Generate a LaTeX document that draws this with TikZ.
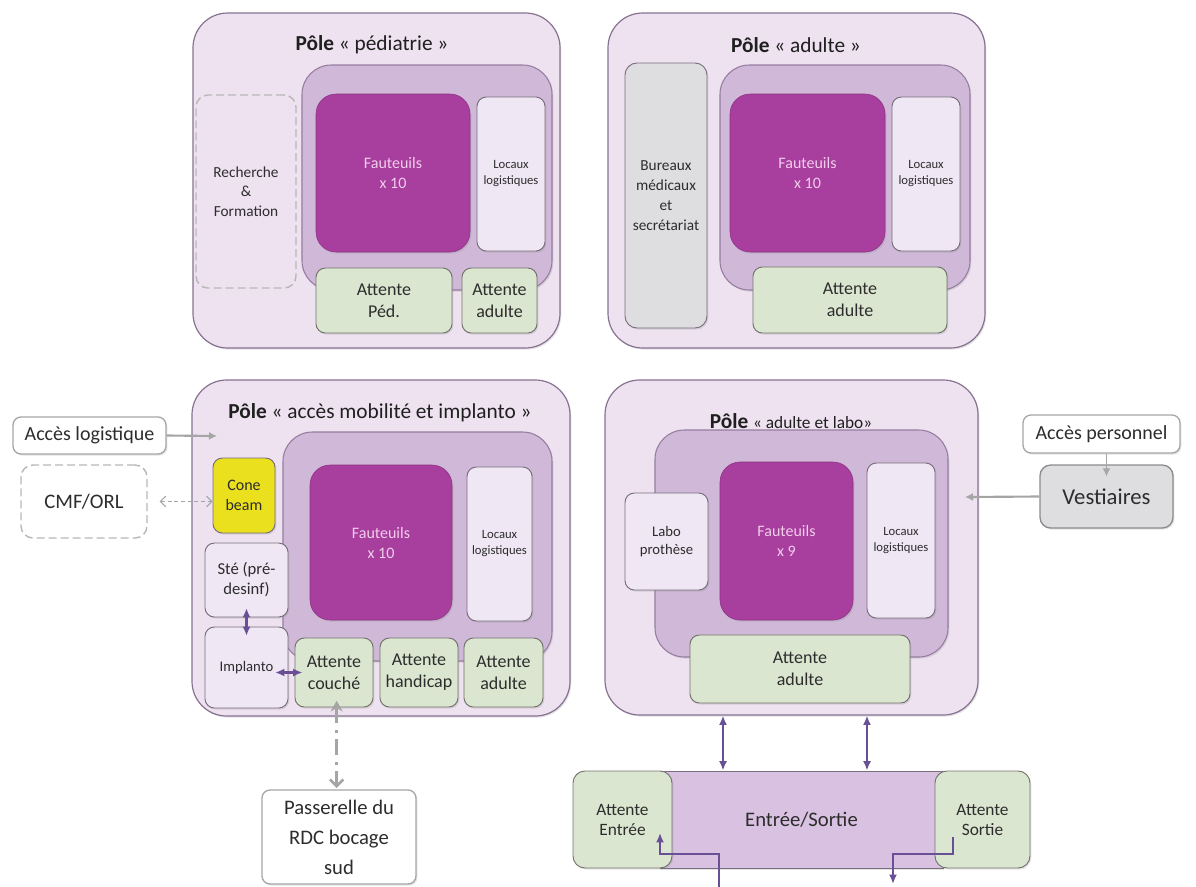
\documentclass[tikz,border=0pt]{standalone}
\usepackage{fontspec}
\setmainfont{Carlito}
\usepackage{tikz}
\usetikzlibrary{arrows.meta, positioning, calc, shadows}

\definecolor{poleFill}{RGB}{238,226,240}
\definecolor{poleLine}{RGB}{135,115,145}
\definecolor{innerFill}{RGB}{208,184,216}
\definecolor{innerLine}{RGB}{150,125,160}
\definecolor{fautFill}{RGB}{168,62,158}
\definecolor{fautLine}{RGB}{140,50,130}
\definecolor{fautText}{RGB}{242,205,236}
\definecolor{locFill}{RGB}{239,231,244}
\definecolor{locLine}{RGB}{120,110,125}
\definecolor{attFill}{RGB}{219,230,208}
\definecolor{attLine}{RGB}{115,115,110}
\definecolor{buFill}{RGB}{222,221,224}
\definecolor{coneFill}{RGB}{234,224,30}
\definecolor{esFill}{RGB}{217,193,225}
\definecolor{arrowPurple}{RGB}{105,80,150}
\definecolor{arrowGray}{RGB}{165,165,165}
\definecolor{textGray}{RGB}{45,45,45}

\tikzset{
  % zone={x1}{y1}{x2}{y2}: box between two corners, in pixels
  zone/.style n args={4}{at={($(#1,#2)!.5!(#3,#4)$)},
    minimum width={(#3-#1)*0.75pt}, minimum height={(#4-#2)*0.75pt}},
  box/.style={draw, inner sep=0pt, align=center, text=textGray,
    drop shadow={shadow xshift=1pt, shadow yshift=-1.2pt, opacity=0.22}},
  pole/.style={box, draw=poleLine, fill=poleFill, rounded corners=26pt, line width=0.9pt},
  inner/.style={box, draw=innerLine, fill=innerFill, rounded corners=22pt, line width=0.8pt},
  fauteuil/.style={box, draw=fautLine, fill=fautFill, rounded corners=15pt, text=fautText,
    font=\fontsize{12}{15}\selectfont},
  locaux/.style={box, draw=locLine, fill=locFill, rounded corners=7pt, line width=0.7pt,
    font=\fontsize{9.5}{12}\selectfont},
  salle/.style={locaux, font=\fontsize{12}{15}\selectfont},
  attente/.style={box, draw=attLine, fill=attFill, rounded corners=7pt, line width=0.7pt,
    font=\fontsize{13.5}{16.5}\selectfont},
  bureau/.style={box, draw=locLine, fill=buFill, rounded corners=9pt, line width=0.7pt,
    font=\fontsize{11.5}{15}\selectfont},
  tirets/.style={draw=black!28, dash pattern=on 6pt off 3pt, line width=1.1pt, inner sep=0pt,
    align=center, text=textGray, rounded corners=9pt},
  acces/.style={box, draw=black!35, fill=white, rounded corners=6pt, line width=1pt,
    font=\fontsize{15}{18}\selectfont},
  ptitle/.style={font=\fontsize{16}{19}\selectfont, text=black!88},
  duplex/.style={{Latex[length=7pt,width=6pt]}-{Latex[length=7pt,width=6pt]},
    draw=arrowPurple, line width=1.7pt},
  flux/.style={-{Latex[length=7pt,width=6pt]}, draw=arrowPurple, line width=1.7pt},
  gris/.style={-{Latex[length=6pt,width=6pt]}, draw=arrowGray, line width=1.6pt},
  lienpoint/.style={{Straight Barb[length=4pt,width=8pt]}-{Straight Barb[length=4pt,width=8pt]},
    draw=arrowGray, dash pattern=on 3pt off 2pt, line width=0.7pt},
  passage/.style={{Stealth[length=8pt,width=9pt]}-{Straight Barb[length=5pt,width=10pt]},
    draw=arrowGray, line width=2pt, dash pattern=on 12pt off 5pt on 2pt off 5pt}
}

\begin{document}
\begin{tikzpicture}[x=0.75pt, y=-0.75pt]
\useasboundingbox (0,0) rectangle (1196,886);

% Pole pediatrie
\node[pole, zone={193}{13}{560}{348}] (pl1) {};
\node[ptitle] (t1) at (372,45) {\textbf{Pôle} « pédiatrie »};
\node[inner, zone={302}{65}{552}{290}] (in1) {};
\node[tirets, zone={196}{95}{296}{288}, font=\fontsize{11.5}{14.5}\selectfont] (rf) {Recherche\\\&\\Formation};
\node[fauteuil, zone={316}{94}{470}{252}] (f1) {Fauteuils\\x 10};
\node[locaux, zone={477}{97}{545}{251}] (lo1) {Locaux\\logistiques};
\node[attente, zone={316}{268}{452}{333}] (ap1) {Attente\\Péd.};
\node[attente, zone={462}{268}{537}{333}] (aa1) {Attente\\adulte};

% Pole adulte
\node[pole, zone={608}{13}{985}{348}] (pl2) {};
\node[ptitle] (t2) at (796,45) {\textbf{Pôle} « adulte »};
\node[bureau, zone={625}{63}{707}{328}] (bu) {Bureaux\\médicaux\\et\\secrétariat};
\node[inner, zone={720}{65}{970}{290}] (in2) {};
\node[fauteuil, zone={730}{94}{885}{252}] (f2) {Fauteuils\\x 10};
\node[locaux, zone={892}{97}{960}{251}] (lo2) {Locaux\\logistiques};
\node[attente, zone={753}{267}{947}{333}] (aa2) {Attente\\adulte};

% Pole acces mobilite et implanto
\node[pole, zone={192}{380}{570}{716}] (pl3) {};
\node[ptitle] (t3) at (380,413) {\textbf{Pôle} « accès mobilité et implanto »};
\node[inner, zone={283}{432}{552}{661}] (in3) {};
\node[salle, fill=coneFill, zone={213}{458}{275}{533}] (cb) {Cone\\beam};
\node[salle, font=\fontsize{12.5}{15}\selectfont, zone={205}{543}{288}{617}] (ste) {Sté (pré-\\desinf)};
\node[salle, font=\fontsize{11}{14}\selectfont, zone={205}{627}{288}{708}] (imp) {Implanto};
\node[fauteuil, zone={310}{465}{452}{620}] (f3) {Fauteuils\\x 10};
\node[locaux, zone={467}{467}{532}{621}] (lo3) {Locaux\\logistiques};
\node[attente, zone={295}{638}{373}{707}] (ac) {Attente\\couché};
\node[attente, zone={380}{638}{458}{707}] (ah) {Attente\\handicap};
\node[attente, zone={464}{638}{543}{707}] (aa3) {Attente\\adulte};

% Pole adulte et labo
\node[pole, zone={605}{380}{978}{715}] (pl4) {};
\node[ptitle] (t4) at (791,421) {\textbf{Pôle} {\fontsize{13}{15}\selectfont « adulte et labo»}};
\node[inner, zone={655}{430}{948}{657}] (in4) {};
\node[salle, font=\fontsize{11}{13.5}\selectfont, zone={625}{493}{708}{590}] (lp) {Labo\\prothèse};
\node[fauteuil, zone={720}{462}{853}{620}] (f4) {Fauteuils\\x 9};
\node[locaux, zone={867}{463}{935}{618}] (lo4) {Locaux\\logistiques};
\node[attente, zone={690}{635}{910}{703}] (aa4) {Attente\\adulte};

% Acces exterieurs
\node[acces, zone={13}{417}{166}{454}] (al) {Accès logistique};
\node[tirets, zone={21}{465}{147}{538}, font=\fontsize{15.5}{18}\selectfont] (cmf) {CMF/ORL};
\node[acces, zone={1023}{415}{1180}{453}] (apers) {Accès personnel};
\node[acces, fill=buFill, draw=black!45, rounded corners=8pt, font=\fontsize{17}{20}\selectfont,
  zone={1040}{465}{1173}{528}] (vest) {Vestiaires};
\node[acces, font=\fontsize{15.5}{22.5}\selectfont, zone={262}{790}{416}{884}] (pass) {Passerelle du\\RDC bocage\\sud};

% Entree / sortie
\node[box, draw=locLine, fill=esFill, line width=0.7pt, font=\fontsize{15.5}{18}\selectfont,
  zone={660}{771}{943}{868}] (es) {Entrée/Sortie};
\node[attente, font=\fontsize{13}{15}\selectfont, rounded corners=9pt, zone={573}{771}{672}{868}] (ae) {Attente\\Entrée};
\node[attente, font=\fontsize{13}{15}\selectfont, rounded corners=9pt, zone={935}{771}{1030}{868}] (as) {Attente\\Sortie};

% Liaisons
\coordinate (login) at (217,436);
\coordinate (persin) at (965,497);
\draw[gris] (al.east) -- (login);
\draw[gris] (vest.west) -- (persin);
\draw[gris, line width=1.1pt] (vest.north |- apers.south) -- ([yshift=-9pt]vest.north);
\draw[lienpoint] ([xshift=9pt]cmf.east) -- (cmf.east -| cb.west);
\draw[duplex, shorten <=-7pt, shorten >=-7pt] (ste.south) -- (imp.north);
\draw[duplex, shorten <=-10pt, shorten >=-6pt] (imp.east |- ac.west) -- (ac.west);
\draw[passage, shorten <=-5pt, shorten >=1pt] ([xshift=2pt]ac.south) -- ([xshift=2pt]ac.south |- pass.north);
\foreach \x in {723,867}
  \draw[duplex] (pl4.south -| \x,0) -- (es.north -| \x,0);

% Circulation patients
\coordinate (inbot) at (719,888);
\coordinate (ein) at (660,833);
\coordinate (sout) at (953,837);
\coordinate (outbot) at (893,884);
\draw[flux] (inbot) -- (719,854) -| (ein);
\draw[flux] (sout) -- (953,854) -| (outbot);

\end{tikzpicture}
\end{document}
